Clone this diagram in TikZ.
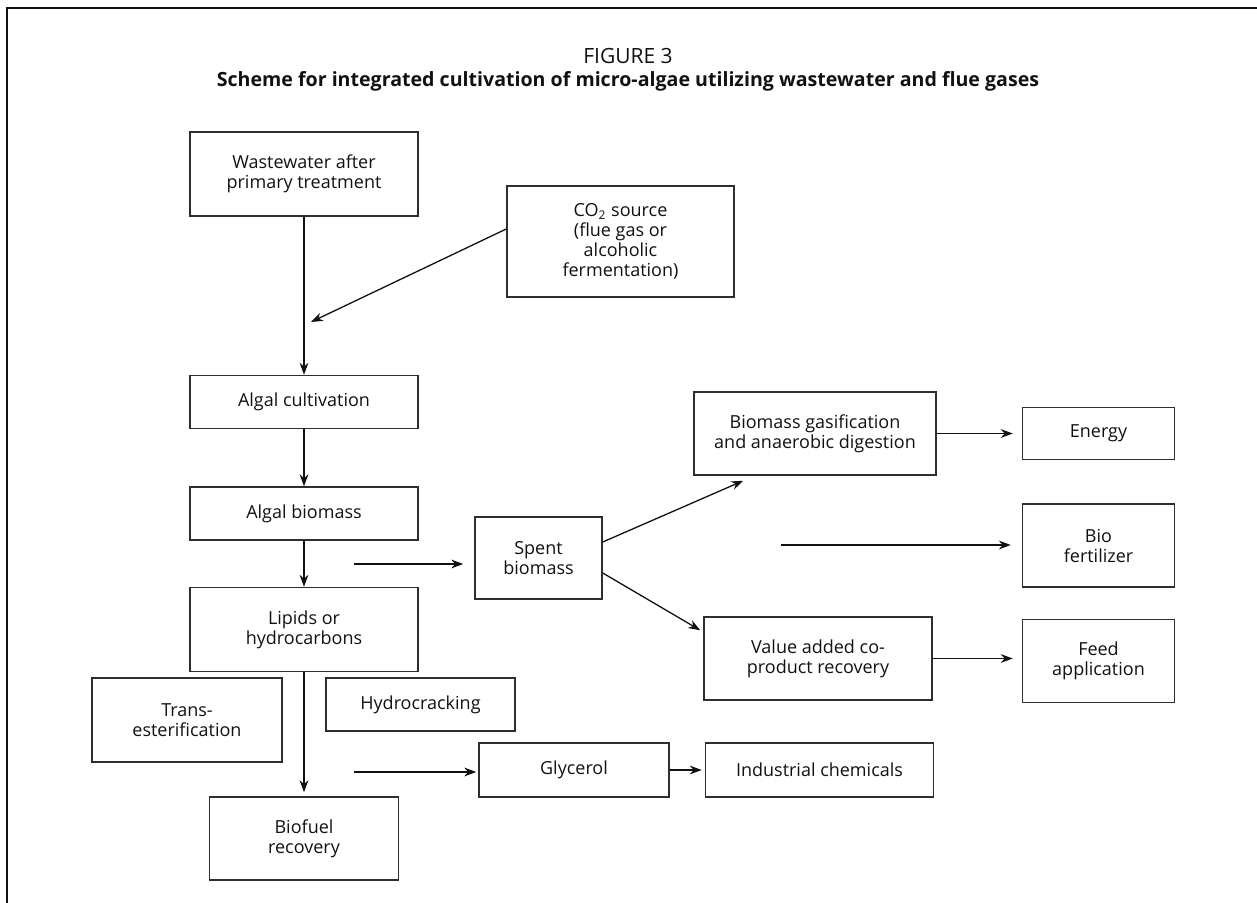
\documentclass[tikz,border=0pt]{standalone}
\usepackage{fontspec}
\setmainfont{Open Sans}
\usepackage{tikz}
\usetikzlibrary{arrows.meta,calc,positioning}
\definecolor{Ink}{HTML}{111111}
\definecolor{Edge}{HTML}{2E2E2E}
\tikzset{box/.style={draw=Edge,line width=.75pt,align=center,inner sep=2pt,font=\fontsize{9pt}{10pt}\selectfont,text=Ink},flow/.style={-{Stealth[length=6pt,width=4.4pt]},line width=.65pt,draw=Ink},frame/.style={line width=1pt,draw=Ink}}

\begin{document}
\begin{tikzpicture}
      \useasboundingbox (0,0) rectangle (628.5pt,-451.5pt);
      \draw[frame] (3.5pt,-451.5pt) -- (3.5pt,-4pt) -- (628.5pt,-4pt);
      \node[anchor=base,font=\fontsize{10.5pt}{12pt}\selectfont,text=Ink] (fig) at (314pt,-32pt) {FIGURE 3};
      \node[anchor=base,font=\fontsize{9.8pt}{12pt}\selectfont\bfseries,text=Ink] (caption) at (314pt,-43.5pt) {Scheme for integrated cultivation of micro-algae utilizing wastewater and flue gases};
      % main column
      \node[box,minimum width=114pt,minimum height=42pt] (waste) at (152pt,-87pt) {Wastewater after\\primary treatment};
      \node[box,minimum width=114pt,minimum height=26.5pt,below=79pt of waste] (cult) {Algal cultivation};
      \node[box,minimum width=114pt,minimum height=26.5pt,below=28.5pt of cult] (algbio) {Algal biomass};
      \node[box,minimum width=114pt,minimum height=42pt,below=23pt of algbio] (lipids) {Lipids or\\hydrocarbons};
      \node[box,minimum width=94.5pt,minimum height=41.5pt,below=62pt of lipids] (biofuel) {Biofuel\\recovery};
      \node[box,minimum width=113.5pt,minimum height=55.5pt] (co2) at (310.25pt,-120.75pt) {CO\textsubscript{2} source\\(flue gas or\\alcoholic\\fermentation)};
      \node[box,minimum width=95pt,minimum height=42pt] (trans) at (93.5pt,-360pt) {Trans-\\esterification};
      \node[box,minimum width=94.5pt,minimum height=26.5pt] (hydro) at (210.25pt,-352.25pt) {Hydrocracking};
      % spent biomass branch
      \node[box,minimum width=63.5pt,minimum height=41pt] (spent) at (269.25pt,-279pt) {Spent\\biomass};
      \node[box,minimum width=121pt,minimum height=41.5pt] (gasif) at (407.5pt,-216.75pt) {Biomass gasification\\and anaerobic digestion};
      \node[box,minimum width=76pt,minimum height=26pt,right=42.5pt of gasif] (energy) {Energy};
      \node[box,minimum width=76pt,minimum height=41.5pt,below=21.5pt of energy] (fert) {Bio\\fertilizer};
      \node[box,minimum width=76pt,minimum height=41.5pt,below=15.5pt of fert] (feed) {Feed\\application};
      \node[box,minimum width=114pt,minimum height=41.5pt] (value) at (409pt,-329.25pt) {Value added co-\\product recovery};
      \node[box,minimum width=95pt,minimum height=27pt] (glycerol) at (287pt,-385pt) {Glycerol};
      \node[box,minimum width=114pt,minimum height=27pt,right=17.5pt of glycerol] (chem) {Industrial chemicals};
      % loose arrow ends
      \coordinate (co2tip) at (155.5pt,-161pt);
      \coordinate (spentin) at (177pt,-282pt);
      \coordinate (fertin) at (390.5pt,-272.5pt);
      \coordinate (glyin) at (177pt,-386pt);
      % connectors
      \draw[flow] (waste) -- (cult);
      \draw[flow] ([yshift=6.25pt]co2.west) -- (co2tip);
      \draw[flow] (cult) -- (algbio);
      \draw[flow] (algbio) -- (lipids);
      \draw[flow,shorten >=2pt] (lipids) -- (lipids.south |- biofuel.north);
      \draw[flow,shorten >=5.5pt] (spentin) -- (spentin -| spent.west);
      \draw[flow] ([yshift=8pt]spent.east) -- ([xshift=25pt,yshift=-2.5pt]gasif.south west);
      \draw[flow] ([yshift=-7.5pt]spent.east) -- ([xshift=-1.5pt,yshift=-7pt]value.north west);
      \draw[flow,shorten >=4.5pt] (gasif) -- (energy);
      \draw[flow,shorten >=5.5pt] (fertin) -- (fertin -| fert.west);
      \draw[flow,shorten >=4.5pt] (value.east) -- (value.east -| feed.west);
      \draw[flow,shorten >=1pt] (glyin) -- (glyin -| glycerol.west);
      \draw[flow,shorten >=1.5pt] (glycerol) -- (chem);
    \end{tikzpicture}
\end{document}
